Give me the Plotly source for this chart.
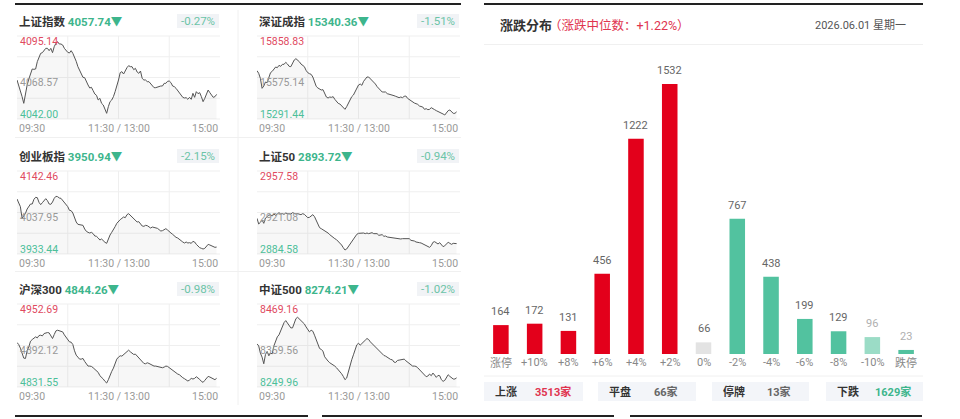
import plotly.graph_objects as go

W, H = 960, 419
FONT = "Roboto, Noto Sans CJK SC, sans-serif"


def fx(p):
    return p / W


def fy(p):
    return 1 - p / H


# ---------------- data ----------------
minutes = list(range(0, 238, 2))
time_labels = ["09:30", "11:30 / 13:00", "15:00"]

index_names = ["上证指数", "深证成指", "创业板指", "上证50", "沪深300", "中证500"]
index_last = [4057.74, 15340.36, 3950.94, 2893.72, 4844.26, 8274.21]
index_pct = [-0.27, -1.51, -2.15, -0.94, -0.98, -1.02]
axis_high = [4095.14, 15858.83, 4142.46, 2957.58, 4952.69, 8469.16]
axis_mid = [4068.57, 15575.14, 4037.95, 2921.08, 4892.12, 8359.56]
axis_low = [4042.00, 15291.44, 3933.44, 2884.58, 4831.55, 8249.96]

sh_index = [4066.97, 4063.77, 4060.57, 4056.30, 4052.03, 4058.44, 4063.77, 4067.61, 4071.67, 4074.01,
            4073.80, 4074.01, 4078.71, 4081.91, 4084.04, 4084.47, 4086.18, 4087.24, 4087.24, 4085.75,
            4087.24, 4084.47, 4088.31, 4090.45, 4091.51, 4090.02, 4090.02, 4089.38, 4087.24, 4085.54,
            4084.68, 4084.26, 4085.75, 4084.04, 4081.91, 4078.92, 4075.51, 4073.16, 4071.88, 4068.68,
            4068.46, 4065.69, 4063.77, 4061.85, 4062.28, 4060.14, 4058.01, 4057.15, 4054.17, 4055.23,
            4052.03, 4050.97, 4048.83, 4045.63, 4049.90, 4053.10, 4054.17, 4056.30, 4059.50, 4062.70,
            4066.97, 4071.67, 4072.31, 4070.81, 4073.37, 4074.87, 4076.15, 4075.51, 4075.51, 4073.59,
            4074.44, 4072.09, 4071.24, 4072.73, 4068.04, 4066.97, 4066.97, 4065.90, 4065.90, 4064.41,
            4063.13, 4062.06, 4062.06, 4062.49, 4062.70, 4063.13, 4063.13, 4064.84, 4064.84, 4066.12,
            4066.33, 4065.26, 4063.13, 4062.70, 4061.64, 4060.14, 4058.44, 4057.58, 4055.87, 4055.45,
            4055.66, 4054.59, 4055.87, 4054.59, 4058.44, 4055.87, 4059.50, 4058.22, 4058.86, 4056.30,
            4053.10, 4055.23, 4057.37, 4060.57, 4058.86, 4057.37, 4055.87, 4056.30, 4057.74]
sz_index = [15621.85, 15603.62, 15569.44, 15501.07, 15517.02, 15544.37, 15539.81, 15580.83, 15608.17, 15617.29,
            15630.96, 15646.91, 15642.35, 15658.30, 15651.47, 15665.14, 15665.14, 15678.81, 15667.42, 15651.47,
            15649.19, 15678.81, 15694.76, 15703.88, 15694.76, 15683.37, 15667.42, 15656.03, 15649.19, 15624.12,
            15608.17, 15601.34, 15596.78, 15578.55, 15546.65, 15514.75, 15503.35, 15496.52, 15489.68, 15491.96,
            15462.34, 15441.83, 15434.99, 15441.83, 15439.55, 15444.11, 15425.88, 15412.20, 15398.53, 15393.98,
            15380.30, 15371.19, 15357.52, 15375.75, 15398.53, 15421.32, 15444.11, 15455.50, 15478.29, 15501.07,
            15523.86, 15530.70, 15521.58, 15548.93, 15562.60, 15578.55, 15578.55, 15567.16, 15555.76, 15544.37,
            15530.70, 15512.47, 15498.80, 15485.12, 15476.01, 15476.01, 15476.01, 15464.61, 15462.34, 15455.50,
            15453.22, 15450.94, 15446.39, 15439.55, 15437.27, 15441.83, 15437.27, 15446.39, 15448.66, 15432.71,
            15423.60, 15414.48, 15405.37, 15400.81, 15396.25, 15391.70, 15380.30, 15378.02, 15373.47, 15357.52,
            15362.07, 15355.24, 15357.52, 15368.91, 15364.35, 15355.24, 15348.40, 15343.84, 15334.73, 15330.17,
            15325.61, 15318.78, 15334.73, 15348.40, 15352.96, 15341.57, 15330.17, 15330.17, 15340.36]
cyb_index = [4071.95, 4062.72, 4052.64, 4023.27, 4029.98, 4035.86, 4046.77, 4054.32, 4059.36, 4059.36,
             4071.11, 4076.15, 4075.31, 4063.56, 4057.68, 4062.72, 4069.43, 4072.79, 4067.75, 4059.36,
             4058.52, 4064.40, 4073.63, 4078.67, 4077.83, 4074.47, 4073.63, 4068.59, 4062.72, 4058.52,
             4052.64, 4043.41, 4042.57, 4036.70, 4024.94, 4014.03, 4008.16, 4007.32, 4004.80, 4005.64,
             3996.40, 3990.53, 3988.01, 3986.33, 3988.01, 3984.65, 3978.78, 3977.94, 3973.74, 3968.70,
             3971.22, 3966.19, 3962.83, 3960.31, 3972.90, 3981.30, 3988.01, 3993.89, 4002.28, 4010.67,
             4016.55, 4019.91, 4023.27, 4026.62, 4024.94, 4032.50, 4035.02, 4030.82, 4026.62, 4022.43,
             4019.07, 4014.03, 4014.87, 4008.16, 4003.96, 4003.12, 4005.64, 4004.80, 4000.60, 3998.92,
             4001.44, 4000.60, 3998.92, 3998.08, 3994.73, 3991.37, 3992.21, 3995.56, 3997.24, 3993.89,
             3988.85, 3986.33, 3982.97, 3978.78, 3975.42, 3973.74, 3971.22, 3967.03, 3963.67, 3961.15,
             3963.67, 3961.15, 3961.99, 3960.31, 3965.35, 3963.67, 3957.79, 3952.76, 3949.40, 3947.72,
             3946.04, 3947.72, 3954.43, 3957.79, 3956.11, 3953.59, 3951.08, 3950.24, 3950.94]
sz50_index = [2915.95, 2910.97, 2912.43, 2914.48, 2911.55, 2916.24, 2917.42, 2918.88, 2918.88, 2918.00,
              2919.76, 2918.59, 2919.76, 2920.93, 2919.76, 2920.05, 2919.47, 2920.64, 2920.05, 2919.76,
              2919.76, 2920.93, 2920.05, 2919.76, 2920.05, 2919.76, 2919.17, 2920.05, 2919.47, 2918.00,
              2916.54, 2916.83, 2918.30, 2919.17, 2917.42, 2914.19, 2910.09, 2907.74, 2906.86, 2905.98,
              2904.52, 2903.64, 2903.05, 2901.58, 2900.12, 2899.24, 2898.07, 2897.19, 2895.72, 2893.96,
              2892.50, 2890.15, 2888.10, 2888.98, 2891.03, 2893.96, 2896.01, 2897.77, 2899.83, 2901.88,
              2902.76, 2903.05, 2902.76, 2903.05, 2902.46, 2903.05, 2902.46, 2902.76, 2903.34, 2902.46,
              2902.17, 2902.46, 2901.00, 2901.00, 2901.58, 2900.12, 2900.41, 2899.53, 2899.24, 2898.95,
              2898.65, 2898.36, 2898.07, 2898.07, 2897.48, 2897.77, 2898.07, 2898.07, 2897.77, 2897.77,
              2898.07, 2896.60, 2896.60, 2896.01, 2895.14, 2895.14, 2894.55, 2894.26, 2893.38, 2892.50,
              2891.91, 2891.32, 2890.44, 2891.91, 2894.84, 2895.43, 2894.26, 2893.38, 2894.55, 2892.50,
              2891.03, 2891.91, 2893.08, 2894.84, 2893.96, 2893.08, 2893.96, 2893.67, 2893.72]
hs300_index = [4896.48, 4893.57, 4888.24, 4880.98, 4873.71, 4873.22, 4884.85, 4890.18, 4898.42, 4900.84,
               4903.26, 4904.72, 4903.26, 4906.66, 4907.14, 4906.17, 4909.56, 4910.53, 4911.02, 4910.53,
               4905.20, 4902.30, 4908.11, 4913.44, 4914.41, 4913.44, 4913.44, 4911.99, 4907.63, 4903.75,
               4901.81, 4897.45, 4896.97, 4893.57, 4884.37, 4878.07, 4875.16, 4872.25, 4872.25, 4873.22,
               4868.86, 4864.50, 4862.08, 4862.08, 4861.59, 4859.65, 4857.23, 4854.81, 4852.87, 4848.03,
               4846.09, 4843.18, 4839.79, 4837.36, 4842.21, 4849.48, 4854.32, 4859.17, 4866.44, 4872.25,
               4875.16, 4877.10, 4876.61, 4879.04, 4881.46, 4883.88, 4885.34, 4882.91, 4880.49, 4879.04,
               4879.52, 4876.61, 4874.68, 4870.31, 4867.89, 4865.95, 4865.47, 4866.92, 4865.95, 4864.50,
               4863.53, 4862.08, 4862.08, 4861.59, 4860.14, 4860.14, 4859.65, 4860.62, 4862.08, 4861.59,
               4859.65, 4857.72, 4855.29, 4853.36, 4852.39, 4850.45, 4849.48, 4846.57, 4845.12, 4843.66,
               4842.21, 4840.27, 4841.73, 4844.15, 4843.18, 4844.15, 4846.57, 4845.12, 4842.69, 4839.79,
               4838.33, 4841.24, 4844.63, 4847.06, 4846.09, 4844.63, 4843.18, 4842.21, 4844.26]
zz500_index = [8363.94, 8358.68, 8339.39, 8328.87, 8311.34, 8335.89, 8343.78, 8332.38, 8339.39, 8337.64,
               8358.68, 8371.84, 8382.36, 8387.62, 8398.14, 8411.29, 8420.06, 8425.32, 8419.18, 8412.17,
               8406.03, 8406.03, 8419.18, 8430.58, 8434.09, 8429.70, 8425.32, 8421.81, 8416.55, 8408.66,
               8402.52, 8395.51, 8399.89, 8397.26, 8386.74, 8375.34, 8361.31, 8351.67, 8349.04, 8344.65,
               8329.75, 8322.73, 8318.35, 8313.97, 8311.34, 8308.71, 8305.20, 8300.81, 8296.43, 8291.17,
               8285.03, 8278.02, 8269.25, 8273.63, 8291.17, 8304.32, 8321.86, 8335.01, 8348.16, 8361.31,
               8365.70, 8360.44, 8364.82, 8368.33, 8373.59, 8377.97, 8375.34, 8369.20, 8364.82, 8360.44,
               8356.93, 8351.67, 8347.28, 8342.02, 8336.76, 8333.26, 8331.50, 8328.00, 8324.49, 8322.73,
               8321.86, 8315.72, 8314.84, 8320.10, 8320.98, 8321.86, 8323.61, 8323.61, 8319.23, 8315.72,
               8313.09, 8309.58, 8305.20, 8305.20, 8304.32, 8300.81, 8295.55, 8292.05, 8285.91, 8280.65,
               8277.14, 8278.89, 8284.16, 8279.77, 8286.79, 8281.52, 8275.39, 8280.65, 8279.77, 8269.25,
               8264.87, 8267.50, 8273.63, 8282.40, 8278.02, 8273.63, 8271.00, 8271.00, 8274.21]
index_series = [sh_index, sz_index, cyb_index, sz50_index, hs300_index, zz500_index]

categories = ["涨停", "+10%", "+8%", "+6%", "+4%", "+2%", "0%", "-2%", "-4%", "-6%", "-8%", "-10%", "跌停"]
counts = [164, 172, 131, 456, 1222, 1532, 66, 767, 438, 199, 129, 96, 23]

summary_labels = ["上涨", "平盘", "停牌", "下跌"]
summary_counts = [3513, 66, 13, 1629]
median_change = 1.22
date_text = "2026.06.01 星期一"

# ---------------- styles ----------------
RED = "#e3001b"
TEAL = "#52c29f"
LIGHT_TEAL = "#9bdcc6"
UP_TXT = "#e0344f"
DOWN_TXT = "#3db58c"
GRID = "#efefef"

col_x = [(17, 220), (257, 460)]
row_y = [(36, 119), (171, 254), (304, 387)]

fig = go.Figure()
shapes = []
annotations = []
layout_axes = {}


def line_shape(x0, y0, x1, y1, color, width=1, layer="below"):
    return dict(type="line", xref="paper", yref="paper", x0=fx(x0), y0=fy(y0), x1=fx(x1), y1=fy(y1),
                line=dict(color=color, width=width), layer=layer)


def rect_shape(x0, y0, x1, y1, fill):
    return dict(type="rect", xref="paper", yref="paper", x0=fx(x0), y0=fy(y0), x1=fx(x1), y1=fy(y1),
                fillcolor=fill, line=dict(width=0), layer="below")


for i, name in enumerate(index_names):
    col, row = i % 2, i // 2
    x0, x1 = col_x[col]
    top, bot = row_y[row]
    k = i + 1
    xa = "x" if k == 1 else f"x{k}"
    ya = "y" if k == 1 else f"y{k}"
    fig.add_trace(go.Scatter(
        x=minutes, y=index_series[i], mode="lines", xaxis=xa, yaxis=ya,
        line=dict(color="#555555", width=1), fill="tozeroy", fillcolor="rgba(0,0,0,0.03)",
        hoverinfo="skip", showlegend=False))
    layout_axes["xaxis" if k == 1 else f"xaxis{k}"] = dict(
        domain=[fx(x0), fx(x1)], range=[0, 240], visible=False, anchor=ya, fixedrange=True)
    layout_axes["yaxis" if k == 1 else f"yaxis{k}"] = dict(
        domain=[fy(bot), fy(top)], range=[axis_low[i], axis_high[i]], visible=False, anchor=xa,
        fixedrange=True)
    # grid
    for j in range(5):
        yy = top + (bot - top) * j / 4
        shapes.append(line_shape(x0, yy, x1, yy, GRID))
    for j in range(1, 4):
        xx = x0 + (x1 - x0) * j / 4
        shapes.append(line_shape(xx, top, xx, bot, GRID))
    # title + value
    annotations.append(dict(
        xref="paper", yref="paper", x=fx(x0), y=fy(top - 14), xanchor="left", yanchor="middle",
        showarrow=False, font=dict(family=FONT, size=11.5, color="#333333"),
        text=f"<b>{name}</b>\u00a0<span style='color:{DOWN_TXT}'><b>{index_last[i]:.2f}▼</b></span>"))
    shapes.append(rect_shape(x1 - 43, top - 22, x1 - 1, top - 8, "#f1f3f6"))
    annotations.append(dict(
        xref="paper", yref="paper", x=fx(x1 - 3), y=fy(top - 15), xanchor="right", yanchor="middle",
        showarrow=False, font=dict(family=FONT, size=11.5, color="#6cc4a7"), text=f"{index_pct[i]:.2f}%"))
    # y labels
    for val, yy, colr in [(axis_high[i], top + 5, "#e04a5f"), (axis_mid[i], (top + bot) / 2 + 4.5, "#999999"),
                          (axis_low[i], bot - 5, "#4dbf9a")]:
        annotations.append(dict(
            xref="paper", yref="paper", x=fx(x0 + 1), y=fy(yy), xanchor="left", yanchor="middle",
            showarrow=False, font=dict(family=FONT, size=10.5, color=colr), text=f"{val:.2f}"))
    # x labels
    for lab, xx, anc in [(time_labels[0], x0, "left"), (time_labels[1], (x0 + x1) / 2, "center"),
                         (time_labels[2], x1, "right")]:
        annotations.append(dict(
            xref="paper", yref="paper", x=fx(xx), y=fy(bot + 9), xanchor=anc, yanchor="middle",
            showarrow=False, font=dict(family=FONT, size=10.5, color="#999999"), text=lab))

# separators in the left panel
shapes.append(line_shape(238, 10, 238, 405, "#f0f0f0"))
shapes.append(line_shape(15, 137.5, 461, 137.5, "#f0f0f0"))
shapes.append(line_shape(15, 271.5, 461, 271.5, "#f0f0f0"))

# black frame lines
shapes.append(line_shape(15, 4, 461, 4, "#222222", 2, "above"))
shapes.append(line_shape(484, 4, 923, 4, "#222222", 2, "above"))
shapes.append(line_shape(15, 416, 308, 416, "#222222", 2, "above"))
shapes.append(line_shape(322, 416, 614, 416, "#222222", 2, "above"))
shapes.append(line_shape(630, 416, 922, 416, "#222222", 2, "above"))

# ---------------- right panel ----------------
annotations.append(dict(xref="paper", yref="paper", x=fx(498), y=fy(25), xanchor="left", yanchor="middle",
                        showarrow=False, font=dict(family=FONT, size=13, color="#333333"), text="<b>涨跌分布</b>"))
annotations.append(dict(xref="paper", yref="paper", x=fx(547), y=fy(25), xanchor="left", yanchor="middle",
                        showarrow=False, font=dict(family=FONT, size=12.5, color=UP_TXT),
                        text=f"（涨跌中位数：+{median_change:.2f}%）"))
annotations.append(dict(xref="paper", yref="paper", x=fx(908), y=fy(25), xanchor="right", yanchor="middle",
                        showarrow=False, font=dict(family=FONT, size=11, color="#555555"), text=date_text))
shapes.append(line_shape(484, 44.5, 923, 44.5, "#f0f0f0"))
shapes.append(line_shape(484, 376, 923, 376, "#f0f0f0"))

bar_colors = []
for c in categories:
    if c == "0%":
        bar_colors.append("#e3e3e3")
    elif c == "-10%":
        bar_colors.append(LIGHT_TEAL)
    elif c.startswith("+") or c == "涨停":
        bar_colors.append(RED)
    else:
        bar_colors.append(TEAL)

fig.add_trace(go.Bar(x=categories, y=counts, xaxis="x7", yaxis="y7", marker=dict(color=bar_colors, line=dict(width=0)),
                     width=0.46, hoverinfo="skip", showlegend=False))
layout_axes["xaxis7"] = dict(domain=[fx(484), fx(923)], range=[-0.5, len(categories) - 0.5], type="category",
                             visible=False, anchor="y7", fixedrange=True)
layout_axes["yaxis7"] = dict(domain=[fy(354), fy(84)], range=[0, max(counts)], visible=False, anchor="x7",
                             fixedrange=True)

for c, v in zip(categories, counts):
    lab_col = "#b0b0b0" if c in ("-10%", "跌停") else "#666666"
    annotations.append(dict(xref="x7", yref="y7", x=c, y=v, xanchor="center", yanchor="bottom", yshift=5,
                            showarrow=False, font=dict(family=FONT, size=11, color=lab_col), text=str(v)))
    annotations.append(dict(xref="x7", yref="paper", x=c, y=fy(362.5), xanchor="center", yanchor="middle",
                            showarrow=False, font=dict(family=FONT, size=11, color="#888888"), text=c))

box_x = [(484, 583), (598, 696), (712, 809), (826, 923)]
sum_colors = [UP_TXT, "#666666", "#666666", DOWN_TXT]
for (bx0, bx1), lab, cnt, colr in zip(box_x, summary_labels, summary_counts, sum_colors):
    shapes.append(rect_shape(bx0, 382, bx1, 401, "#f3f5f9"))
    annotations.append(dict(xref="paper", yref="paper", x=fx(bx0 + 22), y=fy(391.5), xanchor="center",
                            yanchor="middle", showarrow=False, font=dict(family=FONT, size=11, color="#333333"),
                            text=f"<b>{lab}</b>"))
    annotations.append(dict(xref="paper", yref="paper", x=fx(bx1 - 30), y=fy(391.5), xanchor="center",
                            yanchor="middle", showarrow=False, font=dict(family=FONT, size=11, color=colr),
                            text=f"<b>{cnt}家</b>"))

fig.update_layout(
    width=W, height=H, margin=dict(l=0, r=0, t=0, b=0), autosize=False,
    paper_bgcolor="white", plot_bgcolor="rgba(0,0,0,0)",
    font=dict(family=FONT), showlegend=False, bargap=0.54,
    shapes=shapes, annotations=annotations, **layout_axes)

fig.write_html("out.html", config={"displayModeBar": False})
